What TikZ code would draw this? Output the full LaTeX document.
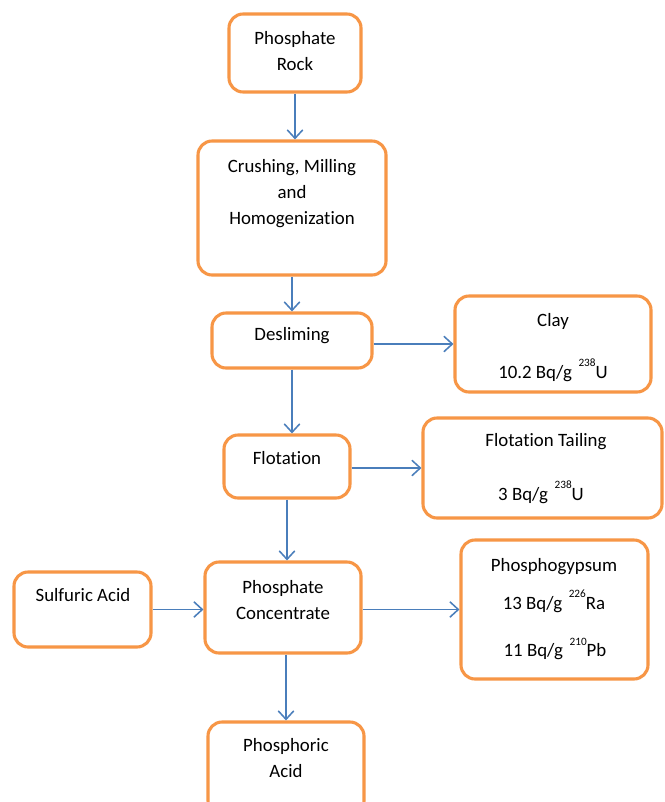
\documentclass[tikz,border=0pt]{standalone}
\usepackage{fontspec}
\setmainfont[Ligatures=NoCommon]{Carlito}
\usetikzlibrary{arrows.meta,fit}
\definecolor{boxorange}{HTML}{F79646}
\definecolor{flowblue}{HTML}{4A7EBB}
\newcommand{\isoTop}[1]{\hspace{0.35em}\raisebox{1.3ex}{\fontsize{8}{8}\selectfont #1}}
\newcommand{\procBox}[5]{%
    \node[procbox, fit={(#2,#3) (#4,#5)}] (#1) {};
}
\tikzset{
    procbox/.style={draw=boxorange, line width=2.2pt, rounded corners=10pt, inner sep=0pt, fill=white},
    lbl/.style={align=center, font=\fontsize{13.4}{18.5}\selectfont, inner sep=0pt},
    flow/.style={draw=flowblue, line width=1.1pt, -{Straight Barb[length=6pt,width=11pt]}}
}
\begin{document}
\begin{tikzpicture}[x=0.025cm, y=-0.025cm]
    \clip (0,0) rectangle (664,802);
    \fill[white] (0,0) rectangle (664,802);
    % boxes
    \procBox{rock}{229}{14}{361}{92}
    \procBox{crush}{198}{141}{386}{275}
    \procBox{deslim}{212}{313}{372}{368}
    \procBox{clay}{455}{296}{651}{392}
    \procBox{flot}{224}{435}{350}{498}
    \procBox{tail}{423}{418}{662}{518}
    \procBox{sulf}{14}{572}{151}{647}
    \procBox{conc}{205}{562}{361}{653}
    \procBox{gyp}{461}{540}{648}{679}
    \procBox{acid}{208}{722}{364}{815}
    % texts
    \node[lbl] (rockTxt) at (295,51) {Phosphate\\Rock};
    \node[lbl] (crushTxt) at (292,194) {Crushing, Milling\\and\\Homogenization};
    \node[lbl] (deslimTxt) at (292,336) {Desliming};
    \node[lbl] (clayTxt) at (553,321) {Clay};
    \node[lbl] (clayVal) at (553,370) {10.2 Bq/g\isoTop{238}U};
    \node[lbl] (flotTxt) at (287,458) {Flotation};
    \node[lbl] (tailTxt) at (546,442) {Flotation Tailing};
    \node[lbl] (tailVal) at (541,492) {3 Bq/g\isoTop{238}U};
    \node[lbl] (sulfTxt) at (83,595) {Sulfuric Acid};
    \node[lbl] (concTxt) at (283,600) {Phosphate\\Concentrate};
    \node[lbl] (gypTxt) at (554,567) {Phosphogypsum};
    \node[lbl] (gypRa) at (554,601) {13 Bq/g\isoTop{226}Ra};
    \node[lbl] (gypPb) at (555,649) {11 Bq/g\isoTop{210}Pb};
    \node[lbl] (acidTxt) at (286,758) {Phosphoric\\Acid};
    % connectors
    \draw[flow] (rock.south) -- (rock.south |- crush.north);
    \draw[flow] (crush.south) -- (crush.south |- deslim.north);
    \draw[flow] (deslim.east |- clay.west) -- (clay.west);
    \draw[flow] (deslim.south) -- (deslim.south |- flot.north);
    \draw[flow] (flot.east |- tail.west) -- (tail.west);
    \draw[flow] (flot.south) -- (flot.south |- conc.north);
    \draw[flow] (sulf.east) -- (sulf.east -| conc.west);
    \draw[flow] (conc.east |- gyp.west) -- (gyp.west);
    \draw[flow] (acid.north |- conc.south) -- (acid.north);
\end{tikzpicture}
\end{document}
